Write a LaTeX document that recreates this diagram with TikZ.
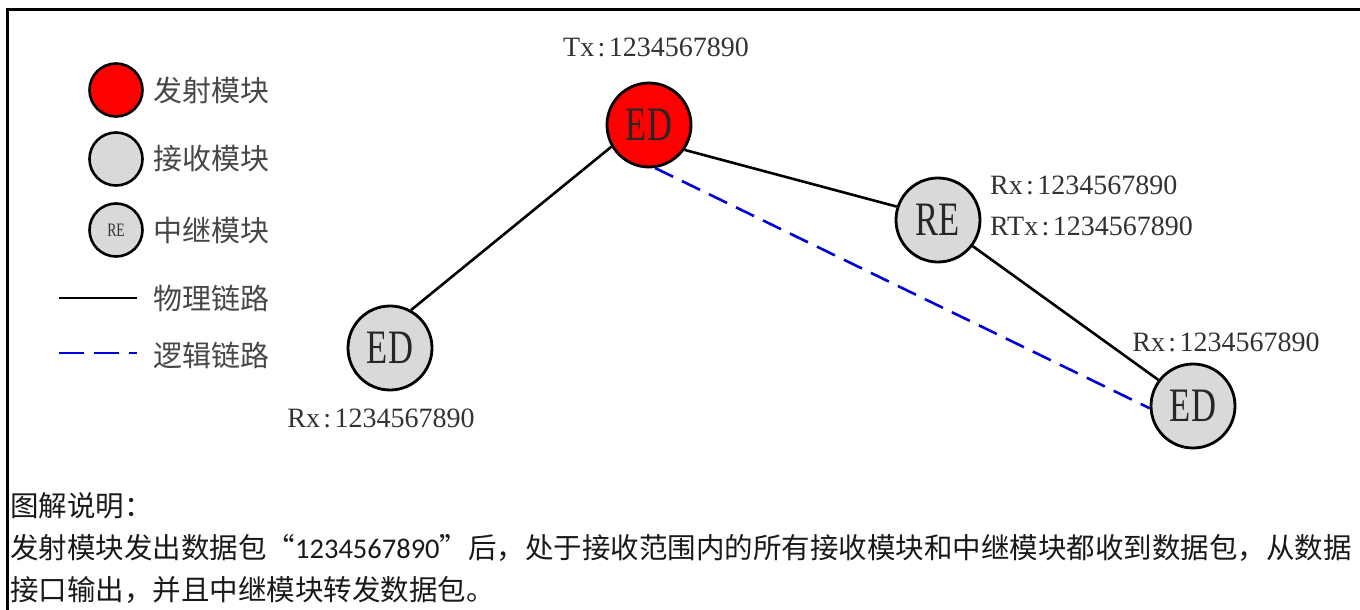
\documentclass[tikz,border=0pt]{standalone}
\usepackage{fontspec}
\setmainfont{Liberation Serif}
\newfontfamily\cjk{Noto Sans CJK SC}
\newfontfamily\edfont[FakeStretch=0.72]{Liberation Serif}
\newfontfamily\numfont{Carlito}
\newcommand{\cln}{\hspace{0.12em}:\hspace{0.12em}}
\begin{document}
\begin{tikzpicture}[x=1pt,y=-1pt,
  phys/.style={line width=2.6pt, black},
  logic/.style={line width=2.6pt, blue!85!black, dash pattern=on 20pt off 10pt},
  bignode/.style={circle, draw, line width=2.8pt, minimum size=84pt, inner sep=0pt,
    font=\edfont\fontsize{48}{48}\selectfont, text=black!85},
  smallnode/.style={circle, draw, line width=2.6pt, minimum size=53pt, inner sep=0pt,
    font=\edfont\fontsize{19}{19}\selectfont, text=black!80},
  txfill/.style={fill=red},
  rxfill/.style={fill=black!15},
  lbl/.style={font=\fontsize{28}{28}\selectfont, text=black!80, inner sep=0pt},
  legtext/.style={font=\cjk\fontsize{29}{29}\selectfont, text=black!72, inner sep=0pt, anchor=west},
  bodytext/.style={font=\cjk\fontsize{28.5}{28.5}\selectfont, text=black!90, inner sep=0pt, anchor=west}
]
\useasboundingbox (0,0) rectangle (1360,610);
\draw[line width=3pt] (1360,10) -- (7,10) -- (7,610);

% legend
\node[smallnode, txfill] (lgtx) at (116,90) {};
\node[legtext] (lgtxt1) at (153,90) {发射模块};
\node[smallnode, rxfill] (lgrx) at (116,159) {};
\node[legtext] (lgtxt2) at (153,159) {接收模块};
\node[smallnode, rxfill] (lgre) at (116,230) {RE};
\node[legtext] (lgtxt3) at (153,230) {中继模块};
\coordinate (lgpa) at (59,298);
\coordinate (lgpb) at (137,298);
\draw[phys] (lgpa) -- (lgpb);
\node[legtext] (lgtxt4) at (153,298) {物理链路};
\coordinate (lgla) at (59,353);
\coordinate (lglb) at (137,353);
\draw[logic, dash pattern=on 25pt off 10pt] (lgla) -- (lglb);
\node[legtext] (lgtxt5) at (153,355) {逻辑链路};

% main nodes
\node[bignode, txfill] (ed1) at (649,125) {ED};
\node[bignode, rxfill] (re) at (938,220) {RE};
\node[bignode, rxfill] (ed3) at (1193,406) {ED};
\node[bignode, rxfill] (ed2) at (390,348) {ED};

\draw[phys] (ed1.210) -- (ed2.61);
\draw[phys] (ed1.-35) -- (re.162);
\draw[phys] (re.-37) -- (ed3.143);
\draw[logic] (ed1.-82) -- (ed3.183);

% labels
\node[lbl] (ltx) at (656,47) {Tx\cln 1234567890};
\node[lbl, anchor=west] (lrx1) at (990,185) {Rx\cln 1234567890};
\node[lbl, anchor=west] (lrtx) at (990,226) {RTx\cln 1234567890};
\node[lbl] (lrx3) at (1226,342) {Rx\cln 1234567890};
\node[lbl] (lrx2) at (381,418) {Rx\cln 1234567890};

% explanation
\node[bodytext] (t1) at (10,506) {图解说明：};
\node[bodytext] (t2) at (10,548) {发射模块发出数据包“{\numfont 1234567890}”后，处于接收范围内的所有接收模块和中继模块都收到数据包，从数据};
\node[bodytext] (t3) at (10,590) {接口输出，并且中继模块转发数据包。};
\end{tikzpicture}
\end{document}
